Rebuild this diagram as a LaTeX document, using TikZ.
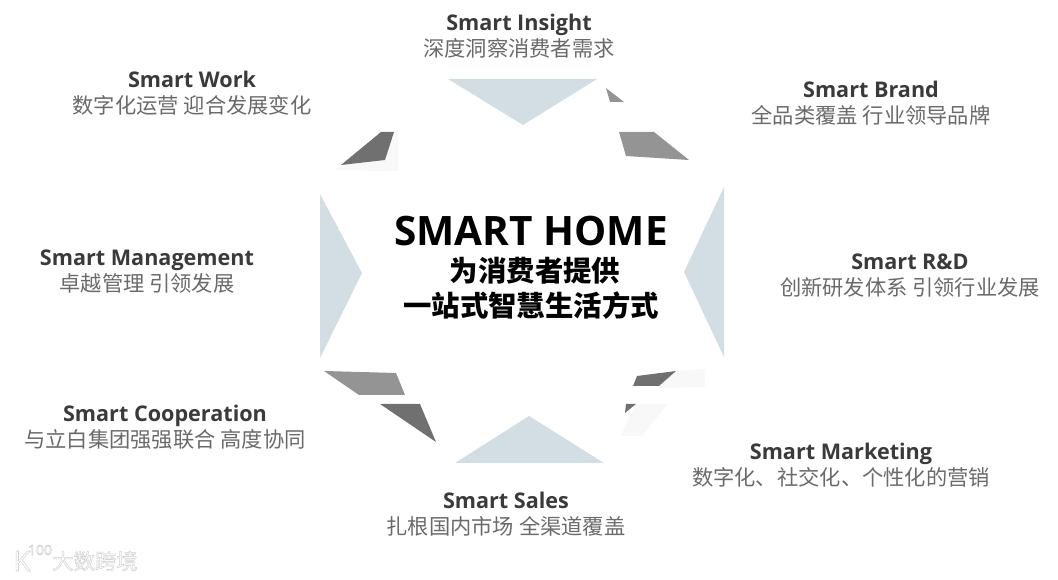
\documentclass[tikz,border=0pt]{standalone}
\usepackage{fontspec}
\setmainfont{Open Sans}
\newfontfamily\cjk{Noto Sans CJK SC}
\definecolor{headc}{HTML}{3A3A3A}
\definecolor{subc}{HTML}{6A6A6A}
\definecolor{pale}{HTML}{D3DDE4}
\definecolor{midg}{HTML}{949494}
\definecolor{darkg}{HTML}{707070}
\definecolor{ghost}{HTML}{F8F8F8}
\newcommand{\halo}{\special{pdf:code 2 Tr 0.82 G 0.4 w}}
\newcommand{\unhalo}{\special{pdf:code 0 Tr 0 G 1 w}}
\tikzset{
  head/.style={text=headc,inner sep=0pt,anchor=base,font=\fontsize{16.2}{18}\selectfont\bfseries},
  subt/.style={text=subc,inner sep=0pt,font=\fontsize{15.95}{18}\selectfont\cjk},
  bigt/.style={text=black,inner sep=0pt,font=\fontsize{30.4}{32}\selectfont\bfseries},
  bigc/.style={text=black,inner sep=0pt,font=\fontsize{21.3}{24}\selectfont\cjk\bfseries},
  wmark/.style={text=white,inner sep=0pt,font=\fontsize{16}{17}\selectfont\cjk},
  wlogo/.style={text=white,inner sep=0pt,font=\fontsize{21}{22}\selectfont},
  wlogos/.style={text=white,inner sep=0pt,font=\fontsize{10.5}{11}\selectfont},
}
\begin{document}
\begin{tikzpicture}[x=0.75pt,y=-0.75pt]
\useasboundingbox (0,0) rectangle (1058,580);
% faint patches
\fill[ghost] (676,371) -- (705,369) -- (705,387) -- (659,388) -- cycle;
\fill[ghost] (636,404) -- (668,404) -- (642,436) -- (620,436) -- cycle;
\fill[ghost] (335,170) -- (398,130) -- (398,171) -- cycle;
% pale triangles
\fill[pale] (448,79) -- (597,79) -- (523,125) -- cycle;
\fill[pale] (455,463) -- (529,416) -- (604,463) -- cycle;
\fill[pale] (320,194) -- (362,273) -- (320,358) -- cycle;
\fill[pale] (724,187) -- (684,272) -- (724,357) -- cycle;
% gray shapes
\fill[midg] (606,88) -- (624,102) -- (610,102) -- cycle;
\fill[midg] (619,132) -- (654,132) -- (689,160) -- (626,156) -- cycle;
\fill[darkg] (341,165) -- (381,132) -- (394,132) -- (385,160) -- cycle;
\fill[midg] (324,371) -- (396,373) -- (405,395) -- (359,395) -- cycle;
\fill[darkg] (380,404) -- (420,404) -- (436,442) -- cycle;
\fill[darkg] (637,376) -- (676,371) -- (659,386) -- (633,386) -- cycle;
\fill[darkg] (626,404) -- (636,404) -- (625,413) -- cycle;
% centre
\node[bigt] (title) at (531,231) {SMART HOME};
\node[bigc] (titlea) at (535,271) {为消费者提供};
\node[bigc] (titleb) at (531,306) {一站式智慧生活方式};
% labels
\node[head] (ih) at (519,31) {Smart Insight};
\node[subt] (is) at (519,48) {深度洞察消费者需求};
\node[head] (wh) at (192,88) {Smart Work};
\node[subt] (ws) at (192,105) {数字化运营 迎合发展变化};
\node[head] (bh) at (871,98) {Smart Brand};
\node[subt] (bs) at (871,115) {全品类覆盖 行业领导品牌};
\node[head] (rh) at (910,270) {Smart R\&D};
\node[subt] (rs) at (910,287) {创新研发体系 引领行业发展};
\node[head] (mh) at (147,266) {Smart Management};
\node[subt] (ms) at (147,283) {卓越管理 引领发展};
\node[head] (ch) at (165,422) {Smart Cooperation};
\node[subt] (cs) at (165,439) {与立白集团强强联合 高度协同};
\node[head] (kh) at (841,460) {Smart Marketing};
\node[subt] (ks) at (841,477) {数字化、社交化、个性化的营销};
\node[head] (sh) at (506,509) {Smart Sales};
\node[subt] (ss) at (506,526) {扎根国内市场 全渠道覆盖};
% watermark
\node[wmark] (wm1) at (95,561) {\halo 大数跨境\unhalo};
\node[wlogo] (wm2) at (22,561) {\halo K\unhalo};
\node[wlogos] (wm3) at (40,550) {\halo 100\unhalo};
\end{tikzpicture}
\end{document}
